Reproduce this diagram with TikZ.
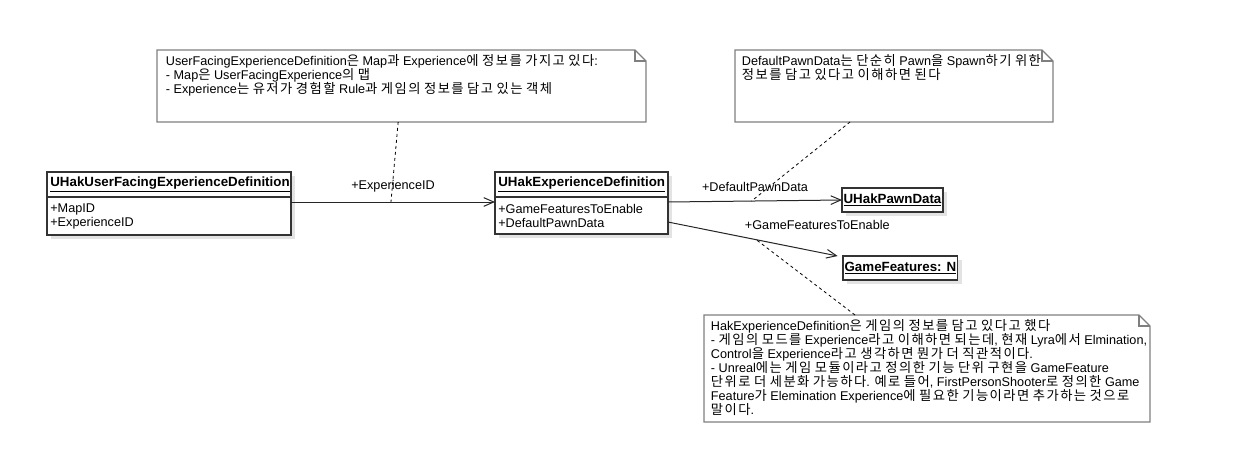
\documentclass[tikz,border=0pt]{standalone}
\usepackage{fontspec}
\setmainfont{Liberation Sans}
\newfontfamily\kofont[Scale=1.05,LetterSpace=11]{Noto Sans CJK KR}
\usetikzlibrary{arrows.meta,positioning,shadows}
\definecolor{Border}{HTML}{333333}
\definecolor{NoteLine}{HTML}{7F7F7F}
\definecolor{Shade}{HTML}{E3E3E3}
\definecolor{Wire}{HTML}{262626}

% hangul syllables switch to the korean font
\XeTeXinterchartokenstate=1
\chardef\HangulClass=7
\count255="AC00
\loop
  \XeTeXcharclass\count255=\HangulClass
\ifnum\count255<"D7A3 \advance\count255 by 1
\repeat
\XeTeXinterchartoks 0 \HangulClass = {\kofont}
\XeTeXinterchartoks 1 \HangulClass = {\kofont}
\XeTeXinterchartoks 2 \HangulClass = {\kofont}
\XeTeXinterchartoks 3 \HangulClass = {\kofont}
\XeTeXinterchartoks 4095 \HangulClass = {\kofont}
\XeTeXinterchartoks \HangulClass 0 = {\rmfamily}
\XeTeXinterchartoks \HangulClass 1 = {\rmfamily}
\XeTeXinterchartoks \HangulClass 2 = {\rmfamily}
\XeTeXinterchartoks \HangulClass 3 = {\rmfamily}
\XeTeXinterchartoks \HangulClass 4095 = {\rmfamily}

\tikzset{
  classhead/.style={draw=Border, line width=0.9pt, fill=white, font=\bfseries, align=center, inner xsep=2.5pt, inner ysep=0pt, outer sep=0pt, minimum height=18.75pt, anchor=north west, drop shadow={shadow xshift=3pt, shadow yshift=-3pt, fill=Shade, opacity=1}},
  classbody/.style={draw=Border, line width=0.9pt, fill=white, align=left, inner xsep=2.5pt, inner ysep=0pt, outer sep=0pt, drop shadow={shadow xshift=3pt, shadow yshift=-3pt, fill=Shade, opacity=1}},
  classref/.style={draw=Border, line width=0.9pt, fill=white, font=\bfseries, inner xsep=1.2pt, inner ysep=0pt, outer sep=0pt, minimum height=18pt, anchor=north west, drop shadow={shadow xshift=3pt, shadow yshift=-3pt, fill=Shade, opacity=1}},
  noteframe/.style={anchor=north west, inner sep=0pt, outer sep=0pt, fill=white},
  notetext/.style={anchor=north west, align=left, inner sep=1.5pt},
  noteline/.style={draw=NoteLine, line width=0.9pt},
  assoc/.style={draw=Wire, line width=0.75pt, -{Straight Barb[length=7.5pt,width=6.5pt]}},
  rolename/.style={inner sep=1pt},
  notelink/.style={draw=black, line width=0.6pt, dash pattern=on 2.25pt off 2.25pt}
}
\newcommand{\notefold}[1]{%
  \draw[noteline] (#1.north west) -- ([xshift=-8.25pt]#1.north east) -- ([yshift=-8.25pt]#1.north east) -- (#1.south east) -- (#1.south west) -- cycle;
  \draw[noteline] ([xshift=-8.25pt]#1.north east) |- ([yshift=-8.25pt]#1.north east);}

\begin{document}
\begin{tikzpicture}[x=0.75pt, y=-0.75pt, font=\fontsize{9.5pt}{10.5pt}\selectfont]
\useasboundingbox (0,0) rectangle (1259,467);

% notes
\node[noteframe, minimum width=366.75pt, minimum height=54pt] (note1) at (157,50) {};
\node[notetext] (note1txt) at ([shift={(5pt,-2pt)}]note1.north west) {UserFacingExperienceDefinition은 Map과 Experience에 정보를 가지고 있다:\\- Map은 UserFacingExperience의 맵\\- Experience는 유저가 경험할 Rule과 게임의 정보를 담고 있는 객체};
\notefold{note1}

\node[noteframe, minimum width=238.5pt, minimum height=54pt] (note2) at (735,50) {};
\node[notetext] (note2txt) at ([shift={(3.5pt,-2pt)}]note2.north west) {DefaultPawnData는 단순히 Pawn을 Spawn하기 위한\\정보를 담고 있다고 이해하면 된다};
\notefold{note2}

\node[noteframe, minimum width=334.5pt, minimum height=80.25pt] (note3) at (704,315) {};
\node[notetext] (note3txt) at ([shift={(3.5pt,-2pt)}]note3.north west) {HakExperienceDefinition은 게임의 정보를 담고 있다고 했다\\- 게임의 모드를 Experience라고 이해하면 되는데, 현재 Lyra에서 Elmination,\\Control을 Experience라고 생각하면 뭔가 더 직관적이다.\\- Unreal에는 게임 모듈이라고 정의한 기능 단위 구현을 GameFeature\\단위로 더 세분화 가능하다. 예로 들어, FirstPersonShooter로 정의한 Game\\Feature가 Elemination Experience에 필요한 기능이라면 추가하는 것으로\\말이다.};
\notefold{note3}

% classes
\node[classhead, text width=178pt] (ufed) at (47,172) {\underline{UHakUserFacingExperienceDefinition}};
\node[classbody, text width=178pt, minimum height=28.5pt, below=0pt of ufed] (ufedattr) {+MapID\\+ExperienceID};
\node[classhead, text width=124.75pt] (expdef) at (495,172) {\underline{UHakExperienceDefinition}};
\node[classbody, text width=124.75pt, minimum height=27.75pt, below=0pt of expdef] (expdefattr) {+GameFeaturesToEnable\\+DefaultPawnData};
\node[classref, minimum width=72.75pt] (pawn) at (842,188) {\underline{UHakPawnData}};
\node[classref, minimum width=81pt] (gfeat) at (843,256) {\underline{GameFeatures: N}};

% associations
\draw[assoc] ([yshift=-3.75pt]ufedattr.north east) -- node[rolename, above=6pt] (lblexp) {+ExperienceID} coordinate[pos=.49] (link1) ([yshift=-3.75pt]expdefattr.north west);
\draw[assoc] ([yshift=-3.75pt]expdefattr.north east) -- node[rolename, above=6pt] (lblpawn) {+DefaultPawnData} coordinate[pos=.48] (link2) (pawn.west);
\draw[assoc] ([yshift=-4.9pt]expdefattr.east) -- node[rolename, pos=.88, above=15pt] (lblgf) {+GameFeaturesToEnable} coordinate[pos=.52] (link3) ([xshift=-4pt]gfeat.north west);

% note links
\draw[notelink] ([xshift=-2.5pt]note1.south) -- (link1);
\draw[notelink] ([xshift=-33pt]note2.south) -- (link2);
\draw[notelink] ([xshift=-54pt]note3.north) -- (link3);
\end{tikzpicture}
\end{document}
